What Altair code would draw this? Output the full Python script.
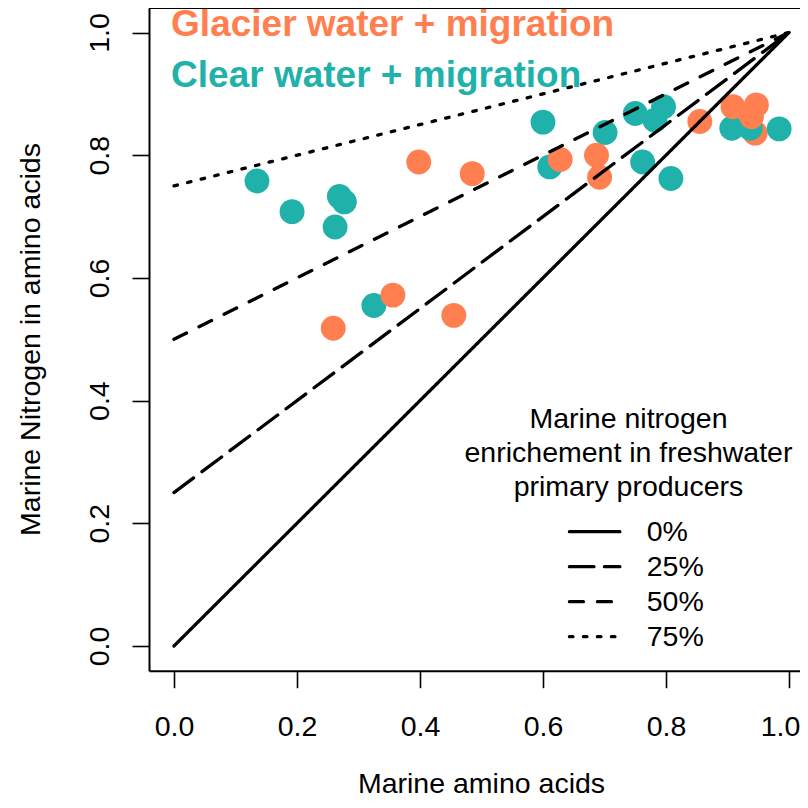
import altair as alt
import pandas as pd

# ---------------- data ----------------
glacier_x = [0.398, 0.485, 0.356, 0.259, 0.455, 0.628, 0.687, 0.692, 0.855, 0.909, 0.947, 0.939, 0.945]
glacier_y = [0.789, 0.770, 0.572, 0.518, 0.539, 0.793, 0.800, 0.764, 0.855, 0.879, 0.882, 0.863, 0.836]

clear_x = [0.135, 0.192, 0.269, 0.277, 0.262, 0.325, 0.600, 0.611, 0.701, 0.750, 0.796, 0.782,
           0.762, 0.808, 0.907, 0.937, 0.984]
clear_y = [0.758, 0.708, 0.733, 0.724, 0.683, 0.555, 0.854, 0.781, 0.837, 0.868, 0.879, 0.857,
           0.789, 0.762, 0.844, 0.844, 0.843]

groups = ["Glacier water + migration", "Clear water + migration"]
group_colors = ["#FF7F50", "#20B2AA"]

enrich_labels = ["0%", "25%", "50%", "75%"]
enrich_values = [0.0, 0.25, 0.5, 0.75]

x_ticks = [0.0, 0.2, 0.4, 0.6, 0.8, 1.0]
y_ticks = [0.0, 0.2, 0.4, 0.6, 0.8, 1.0]

legend_title_lines = ["Marine nitrogen", "enrichement in freshwater", "primary producers"]

x_title = "Marine amino acids"
y_title = "Marine Nitrogen in amino acids"

# ---------------- layout / style ----------------
FONT = "Liberation Sans"
FS = 28.5
W, H = 651, 662.7
dash_patterns = [[1, 0], [24.5, 10.5], [14, 14], [3.5, 10.5]]
LW = 3.3

x_scale = alt.Scale(domain=[-0.0406, 1.0179], nice=False, zero=False)
y_scale = alt.Scale(domain=[-0.0403, 1.04], nice=False, zero=False)

x_axis = alt.Axis(values=x_ticks, format=".1f", grid=False, tickSize=17, tickWidth=1.6,
                  tickColor="black", domainColor="black", domainWidth=2,
                  labelFont=FONT, labelFontSize=FS, labelColor="black",
                  labelPadding=48, labelBaseline="alphabetic", labelFlush=False,
                  labelOverlap=False, labelBound=False,
                  labelOffset={"condition": {"test": "datum.value >= 1", "value": -9}, "value": 0},
                  titleFont=FONT, titleFontSize=FS, titleFontWeight="normal", titleColor="black",
                  titleX=332, titleY=122, titleBaseline="alphabetic", titleAlign="center")
y_axis = alt.Axis(values=y_ticks, format=".1f", grid=False, tickSize=17, tickWidth=1.6,
                  tickColor="black", domainColor="black", domainWidth=2,
                  labelFont=FONT, labelFontSize=FS, labelColor="black",
                  labelAngle=270, labelAlign="center", labelBaseline="alphabetic",
                  labelPadding=24, labelFlush=False, labelOverlap=False,
                  titleFont=FONT, titleFontSize=FS, titleFontWeight="normal", titleColor="black",
                  titleAngle=270, titleX=-110, titleY=331, titleBaseline="alphabetic",
                  titleAlign="center")

X = alt.X("x:Q", scale=x_scale, axis=x_axis, title=x_title)
Y = alt.Y("y:Q", scale=y_scale, axis=y_axis, title=y_title)

dash_scale = alt.Scale(domain=enrich_labels, range=dash_patterns)
color_scale = alt.Scale(domain=groups, range=group_colors)

# ---------------- points ----------------
rows = []
for i, (a, b) in enumerate(zip(glacier_x, glacier_y)):
    rows.append({"x": a, "y": b, "group": groups[0], "z": 0 if i == len(glacier_x) - 1 else 2})
for a, b in zip(clear_x, clear_y):
    rows.append({"x": a, "y": b, "group": groups[1], "z": 1})
pts = pd.DataFrame(rows)

points = alt.Chart(pts).mark_circle(size=620, opacity=1).encode(
    x=X, y=Y,
    color=alt.Color("group:N", scale=color_scale, legend=None),
    order=alt.Order("z:Q"),
)

# ---------------- enrichment lines ----------------
lrows = []
for lab, p in zip(enrich_labels, enrich_values):
    lrows.append({"x": 0.0, "y": p, "label": lab})
    lrows.append({"x": 1.0, "y": 1.0, "label": lab})
lines_df = pd.DataFrame(lrows)

lines = alt.Chart(lines_df).mark_line(color="black", strokeWidth=LW, strokeCap="round").encode(
    x=X, y=Y,
    strokeDash=alt.StrokeDash("label:N", scale=dash_scale, legend=None),
)

# ---------------- annotations (group labels) ----------------
ann_df = pd.DataFrame({"x": [-0.0047, -0.0047], "y": [0.9948, 0.9107], "group": groups})
ann = alt.Chart(ann_df).mark_text(font=FONT, fontSize=37, fontWeight="bold", align="left",
                                  baseline="alphabetic").encode(
    x=X, y=Y, text="group:N",
    color=alt.Color("group:N", scale=color_scale, legend=None),
)

# ---------------- manual legend ----------------
leg_rows_y = [0.1863, 0.1293, 0.0722, 0.0152]
leg_df = pd.DataFrame({"x": [0.643] * 4, "x2": [0.725] * 4, "y": leg_rows_y, "label": enrich_labels})
leg_lines = alt.Chart(leg_df).mark_rule(color="black", strokeWidth=LW, strokeCap="round").encode(
    x=X, x2="x2:Q", y=Y,
    strokeDash=alt.StrokeDash("label:N", scale=dash_scale, legend=None),
)
leg_text_df = pd.DataFrame({"x": [0.7686] * 4, "y": leg_rows_y, "label": enrich_labels})
leg_text = alt.Chart(leg_text_df).mark_text(font=FONT, fontSize=FS, align="left",
                                            baseline="middle", color="black").encode(
    x=X, y=Y, text="label:N")

leg_title_df = pd.DataFrame({"x": [0.739] * 3, "y": [0.3553, 0.2999, 0.2445],
                             "t": legend_title_lines})
leg_title = alt.Chart(leg_title_df).mark_text(font=FONT, fontSize=FS, align="center",
                                              baseline="alphabetic", color="black").encode(
    x=X, y=Y, text="t:N")

# ---------------- top frame line ----------------
top = alt.Chart(pd.DataFrame({"a": [0]})).mark_rule(color="black", strokeWidth=2).encode(
    x=alt.value(0), x2=alt.value(W + 5), y=alt.value(0))

chart = alt.layer(points, lines, ann, leg_lines, leg_text, leg_title, top).properties(
    width=W, height=H,
    autosize=alt.AutoSizeParams(type="none"),
    padding={"left": 141, "top": 0, "right": 0, "bottom": 129.3},
    background="white",
).configure_view(stroke=None)

chart.save("out.html", embed_options={"renderer": "svg", "actions": False})
